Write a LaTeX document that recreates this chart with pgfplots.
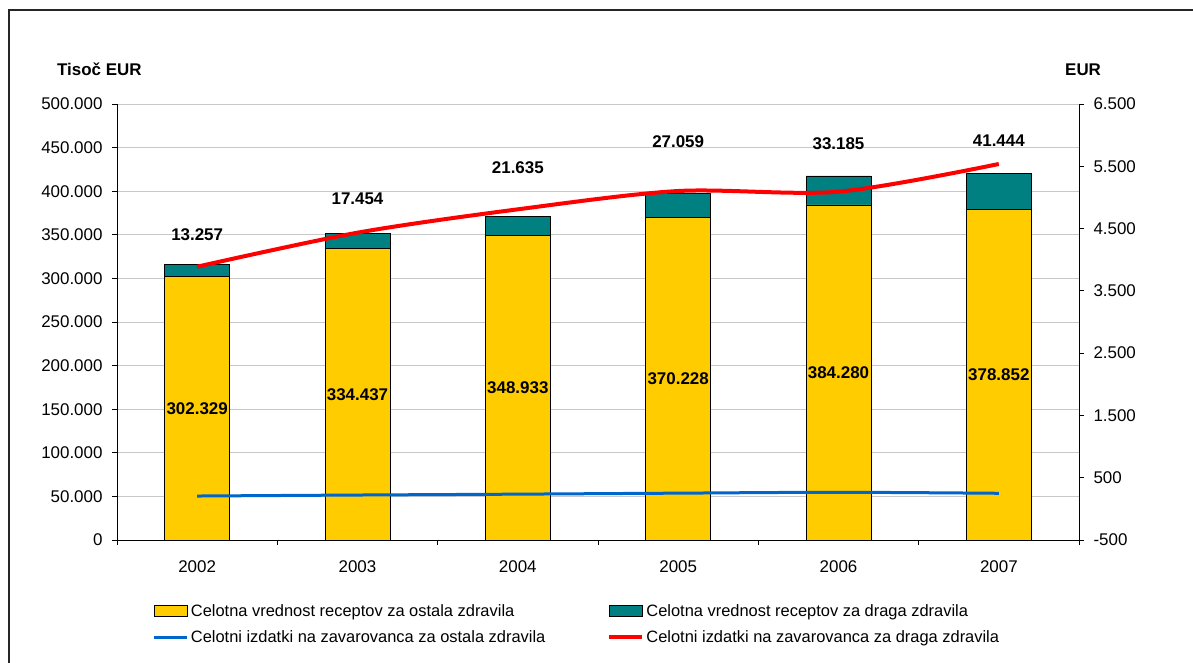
\documentclass[border=0pt]{standalone}
\usepackage{fontspec}
\setmainfont{Liberation Sans}
\usepackage{pgfplots}
\pgfplotsset{compat=1.18}
\definecolor{cyellow}{HTML}{FFCC00}
\definecolor{cteal}{HTML}{008080}
\definecolor{cblue}{HTML}{0066CC}
\definecolor{cred}{HTML}{FF0000}
\definecolor{cgrid}{HTML}{C8C8C8}
\newcommand{\fs}{\fontsize{17}{20}\selectfont}
\newcommand{\fl}{\fontsize{16.5}{19}\selectfont}
\begin{document}
\begin{tikzpicture}
\path[use as bounding box] (-117bp,-123bp) rectangle (1076bp,540bp);
\draw[line width=1.5bp, black!85] (-108bp,-123bp) -- (-108bp,530bp) -- (1076bp,530bp);
\pgfplotsset{
  base/.style={
    scale only axis, width=962bp, height=436bp,
    xmin=-0.5, xmax=5.5,
    /pgf/number format/assume math mode=true,
    /pgf/number format/fixed,
    /pgf/number format/1000 sep={.},
    scaled y ticks=false,
    tick label style={font=\fs},
    tick align=outside,
    major tick length=5bp, minor tick length=5bp,
    axis line style={-, black, line width=0.8bp},
    every tick/.style={black, line width=0.8bp},
  }
}
% bars
\begin{axis}[base,
  ybar stacked, bar width=0.405,
  ymin=0, ymax=500000, ytick={0,50000,...,500000},
  axis y line*=left, axis x line*=bottom,
  xtick={0,...,5}, xticklabels={2002,2003,2004,2005,2006,2007},
  major x tick style={draw=none},
  minor xtick={-0.5,0.5,...,5.5},
  minor tick style={black, line width=0.8bp},
  ymajorgrids, grid style={cgrid, line width=0.8bp},
  xticklabel style={yshift=-12bp},
  yticklabel style={xshift=-6bp},
]
\addplot[fill=cyellow, draw=black, line width=0.8bp] coordinates {(0,302329) (1,334437) (2,348933) (3,370228) (4,384280) (5,378852)};
\addplot[fill=cteal, draw=black, line width=0.8bp] coordinates {(0,13257) (1,17454) (2,21635) (3,27059) (4,33185) (5,41444)};
\end{axis}
% labels
\begin{axis}[base, ymin=0, ymax=500000, hide axis]
\addplot[draw=none, mark=none, nodes near coords, point meta=explicit symbolic,
  nodes near coords style={font=\fs\bfseries, anchor=center, inner sep=0pt}]
  coordinates {(0,151164)[302.329] (1,167218)[334.437] (2,174466)[348.933] (3,185114)[370.228] (4,192140)[384.280] (5,189426)[378.852]};
\addplot[draw=none, mark=none, nodes near coords, point meta=explicit symbolic,
  nodes near coords style={font=\fs\bfseries, anchor=center, inner sep=0pt}]
  coordinates {(0,350300)[13.257] (1,391000)[17.454] (2,426600)[21.635] (3,456800)[27.059] (4,454100)[33.185] (5,458100)[41.444]};
\end{axis}
% lines
\begin{axis}[base,
  ymin=-500, ymax=6500, ytick={-500,500,...,6500},
  axis y line*=right, axis x line=none, xtick=\empty,
  yticklabel style={xshift=6bp},
  legend columns=2,
  legend style={draw=none, fill=none, font=\fl,
    at={(axis description cs:0.034,-0.1375)}, anchor=north west,
    row sep=9bp,
    /tikz/every even column/.append style={column sep=60bp}},
  legend cell align=left,
]
\addlegendimage{legend image code/.code={\draw[fill=cyellow,draw=black,line width=0.8bp] (0bp,-5.5bp) rectangle (33bp,5.5bp);}}
\addlegendentry{Celotna vrednost receptov za ostala zdravila}
\addlegendimage{legend image code/.code={\draw[fill=cteal,draw=black,line width=0.8bp] (0bp,-5.5bp) rectangle (33bp,5.5bp);}}
\addlegendentry{Celotna vrednost receptov za draga zdravila}
\addlegendimage{legend image code/.code={\draw[cblue,line width=3bp] (0bp,0bp) -- (33bp,0bp);}}
\addlegendentry{Celotni izdatki na zavarovanca za ostala zdravila}
\addlegendimage{legend image code/.code={\draw[cred,line width=4bp] (0bp,0bp) -- (33bp,0bp);}}
\addlegendentry{Celotni izdatki na zavarovanca za draga zdravila}
\addplot[cblue, line width=3bp, smooth, forget plot] coordinates {(0,206) (1,222) (2,236) (3,252) (4,266) (5,250)};
\addplot[cred, line width=4bp, smooth, forget plot] coordinates {(0,3888) (1,4434) (2,4809) (3,5103) (4,5092) (5,5537)};
\end{axis}
\node[anchor=base west, inner sep=0pt, font=\fs\bfseries] at (-60bp,464bp) {Tisoč EUR};
\node[anchor=base west, inner sep=0pt, font=\fs\bfseries] at (948bp,464bp) {EUR};
\end{tikzpicture}
\end{document}
